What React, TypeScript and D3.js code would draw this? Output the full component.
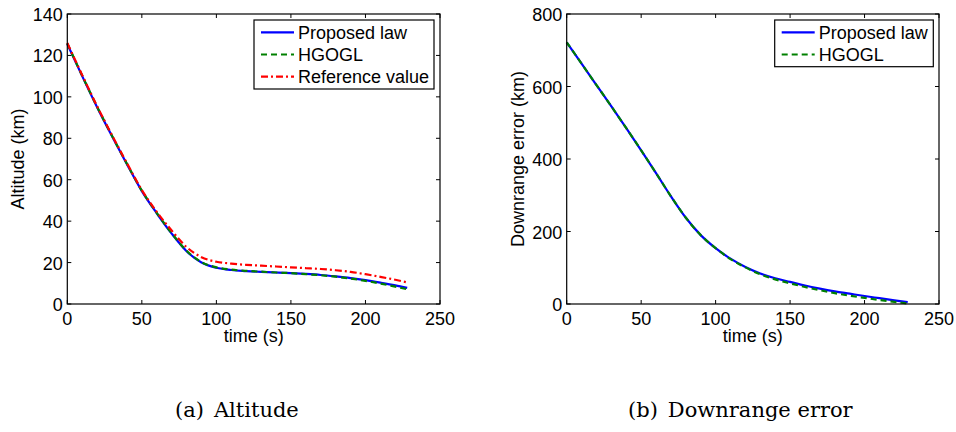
import React from "react";
import * as d3 from "d3";

// ---------- Data ----------
const altTime = [0, 10, 20, 30, 40, 50, 60, 70, 80, 90, 100, 110, 120, 130, 140, 150, 160, 170, 180, 190, 200, 210, 220, 228];
const altProposed = [125.5, 110, 95, 81, 67.5, 54.5, 43.8, 34, 25.5, 20, 17.5, 16.4, 15.9, 15.5, 15.2, 14.9, 14.5, 14.0, 13.3, 12.5, 11.5, 10.3, 9.0, 7.8];
const altHGOGL = [125.8, 110.2, 95.2, 81.2, 67.7, 54.7, 44, 34.2, 25.7, 20.2, 17.7, 16.6, 16.0, 15.6, 15.2, 14.9, 14.4, 13.9, 13.2, 12.3, 11.2, 9.9, 8.4, 7.1];
const altReference = [126, 110.5, 95.5, 81.5, 68, 55, 44.5, 35.5, 27.5, 22.6, 20.4, 19.5, 18.9, 18.5, 18.1, 17.7, 17.3, 16.9, 16.3, 15.5, 14.4, 13.1, 11.7, 10.4];

const drTime = [0, 10, 20, 30, 40, 50, 60, 70, 80, 90, 100, 110, 120, 130, 140, 150, 160, 170, 180, 190, 200, 210, 220, 229];
const drProposed = [722, 663, 604, 545, 485, 424, 361, 297, 238, 190, 154, 125, 102, 84, 71, 61, 51, 42.5, 35, 28.5, 22, 16, 10, 5];
const drHGOGL = [722, 663, 604, 545, 485, 424, 361, 297, 238, 190, 154, 124, 101, 82, 68, 57, 47, 38, 30, 23, 17, 11, 6, 1.5];

const xTicks = [0, 50, 100, 150, 200, 250];
const altTicks = [0, 20, 40, 60, 80, 100, 120, 140];
const drTicks = [0, 200, 400, 600, 800];

const seriesNames = ["Proposed law", "HGOGL", "Reference value"];
const captions = ["(a)", "Altitude", "(b)", "Downrange error"];

const COLORS = ["#0000ff", "#008000", "#ff0000"];
const DASHES = ["none", "6,4", "7,3,2,3"];
const FONT = "'Liberation Sans', Arial, Helvetica, sans-serif";

type Series = { t: number[]; v: number[] };

function Panel(props: {
  left: number; right: number; top: number; bottom: number;
  yMax: number; yTicks: number[]; series: Series[]; ylabel: string;
  ylabelX: number; legendBox: [number, number, number, number]; names: string[];
}) {
  const { left, right, top, bottom, yMax, yTicks, series, ylabel, ylabelX, legendBox, names } = props;
  const x = d3.scaleLinear().domain([0, 250]).range([left, right]);
  const y = d3.scaleLinear().domain([0, yMax]).range([bottom, top]);
  const line = d3.line<[number, number]>().x(d => x(d[0])).y(d => y(d[1])).curve(d3.curveMonotoneX);
  const tl = 4;
  const [lx0, ly0, lx1, ly1] = legendBox;
  return (
    <g>
      <rect x={left} y={top} width={right - left} height={bottom - top} fill="#fff" />
      {series.map((s, i) => (
        <path key={i} d={line(s.t.map((t, j) => [t, s.v[j]]) as [number, number][]) || ""}
          fill="none" stroke={COLORS[i]} strokeWidth={2.2} strokeDasharray={DASHES[i]} />
      ))}
      {xTicks.map(t => (
        <g key={"x" + t}>
          <line x1={x(t)} x2={x(t)} y1={bottom} y2={bottom - tl} stroke="#000" />
          <line x1={x(t)} x2={x(t)} y1={top} y2={top + tl} stroke="#000" />
          <text x={x(t)} y={bottom + 21} textAnchor="middle" fontFamily={FONT} fontSize={18} fill="#000">{t}</text>
        </g>
      ))}
      {yTicks.map(v => (
        <g key={"y" + v}>
          <line x1={left} x2={left + tl} y1={y(v)} y2={y(v)} stroke="#000" />
          <line x1={right} x2={right - tl} y1={y(v)} y2={y(v)} stroke="#000" />
          <text x={left - 4.5} y={y(v) + 7} textAnchor="end" fontFamily={FONT} fontSize={18} fill="#000">{v}</text>
        </g>
      ))}
      <rect x={left} y={top} width={right - left} height={bottom - top} fill="none" stroke="#000" strokeWidth={1.2} />
      <text x={(left + right) / 2} y={342} textAnchor="middle" fontFamily={FONT} fontSize={18} fill="#000">time (s)</text>
      <text transform={`translate(${ylabelX},${(top + bottom) / 2}) rotate(-90)`} textAnchor="middle" fontFamily={FONT} fontSize={18} fill="#000">{ylabel}</text>
      <rect x={lx0} y={ly0} width={lx1 - lx0} height={ly1 - ly0} fill="#fff" stroke="#000" strokeWidth={1.2} />
      {names.map((n, i) => {
        const ry = ly0 + 12.3 + i * 22.2;
        return (
          <g key={n}>
            <line x1={lx0 + 7} x2={lx0 + 40} y1={ry} y2={ry} stroke={COLORS[i]} strokeWidth={2.2} strokeDasharray={DASHES[i]} />
            <text x={lx0 + 44} y={ry + 6.5} fontFamily={FONT} fontSize={18} fill="#000">{n}</text>
          </g>
        );
      })}
    </g>
  );
}

export default function App() {
  return (
    <svg width={956} height={432} style={{ position: "absolute", left: 0, top: 0, background: "#fff" }}>
      <rect width={956} height={432} fill="#fff" />
      <Panel left={67.3} right={440} top={14} bottom={304} yMax={140} yTicks={altTicks}
        series={[{ t: altTime, v: altProposed }, { t: altTime, v: altHGOGL }, { t: altTime, v: altReference }]}
        ylabel="Altitude (km)" ylabelX={24} legendBox={[254, 20, 434, 89]} names={seriesNames} />
      <Panel left={566.7} right={939} top={14} bottom={304} yMax={800} yTicks={drTicks}
        series={[{ t: drTime, v: drProposed }, { t: drTime, v: drHGOGL }]}
        ylabel="Downrange error (km)" ylabelX={523.5} legendBox={[774.7, 20, 933.3, 66.7]} names={seriesNames.slice(0, 2)} />
      <text x={175} y={417} fontFamily="'DejaVu Serif', serif" fontSize={21} fill="#000">
        {captions[0]}<tspan dx={10}>{captions[1]}</tspan>
      </text>
      <text x={628} y={417} fontFamily="'DejaVu Serif', serif" fontSize={21} fill="#000">
        {captions[2]}<tspan dx={10}>{captions[3]}</tspan>
      </text>
    </svg>
  );
}
